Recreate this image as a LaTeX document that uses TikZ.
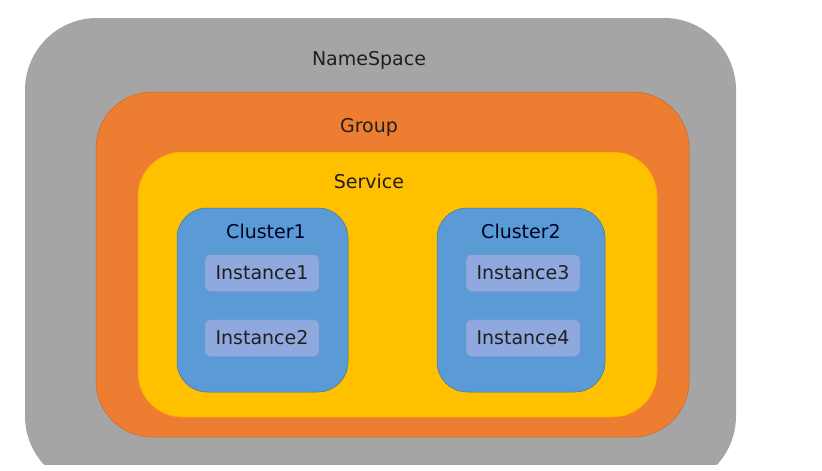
\documentclass[tikz,border=0pt]{standalone}
\usepackage{fontspec}
\setmainfont{DejaVu Sans}
\usepackage{tikz}
\usetikzlibrary{positioning}
\definecolor{nsgray}{HTML}{A5A5A5}
\definecolor{grporange}{HTML}{ED7D31}
\definecolor{svcyellow}{HTML}{FFC000}
\definecolor{clblue}{HTML}{5B9BD5}
\definecolor{instblue}{HTML}{8FA9DE}
\definecolor{txtdark}{HTML}{1F1F1F}
\tikzset{
  layer/.style={anchor=north west, inner sep=0pt, outer sep=0pt},
  lbl/.style={font=\fontsize{19}{22}\selectfont, text=txtdark, inner sep=1pt},
  inst/.style={fill=instblue, draw=instblue!85!black, line width=0.4pt, rounded corners=5pt,
    minimum width=114pt, minimum height=37pt, inner sep=0pt,
    font=\fontsize{19}{22}\selectfont, text=txtdark},
}

\begin{document}
\begin{tikzpicture}[x=1pt, y=-1pt]
\useasboundingbox (0,0) rectangle (822,471);
\begin{scope}
\clip (0,0) rectangle (822,464);
\node[layer, fill=nsgray, rounded corners=72pt, minimum width=711pt, minimum height=470pt] (ns) at (25,18) {};
\end{scope}
\node[layer, fill=grporange, draw=grporange!85!black, line width=0.5pt, rounded corners=56pt,
  minimum width=593pt, minimum height=345pt] (grp) at (96,92) {};
\node[layer, fill=svcyellow, draw=svcyellow!85!red, line width=0.5pt, rounded corners=44pt,
  minimum width=519pt, minimum height=265pt] (svc) at (138,152) {};
\node[layer, fill=clblue, draw=clblue!75!black, line width=0.5pt, rounded corners=30pt,
  minimum width=171pt, minimum height=184pt] (cl1) at (177,208) {};
\node[layer, fill=clblue, draw=clblue!75!black, line width=0.5pt, rounded corners=30pt,
  minimum width=168pt, minimum height=184pt] (cl2) at (437,208) {};
% labels
\node[lbl] (nslbl) at (369,60) {NameSpace};
\node[lbl] (grplbl) at (369,127) {Group};
\node[lbl] (svclbl) at (369,181) {Service};
\node[lbl, text=black!85!blue] (cl1lbl) at (266,231) {Cluster1};
\node[lbl, text=black!85!blue] (cl2lbl) at (521,231) {Cluster2};
% instances
\node[inst] (i1) at (262,273) {Instance1};
\node[inst] (i2) at (262,338) {Instance2};
\node[inst] (i3) at (523,273) {Instance3};
\node[inst] (i4) at (523,338) {Instance4};
\end{tikzpicture}
\end{document}
